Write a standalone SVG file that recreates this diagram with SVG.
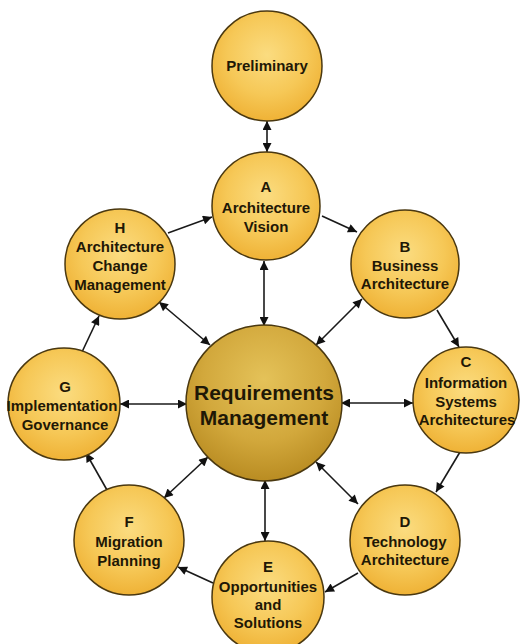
<svg xmlns="http://www.w3.org/2000/svg" width="520" height="644" viewBox="0 0 520 644">
<defs>
<radialGradient id="g" cx="50%" cy="40%" r="60%">
<stop offset="0" stop-color="#fbdc80"/>
<stop offset="0.6" stop-color="#f6c857"/>
<stop offset="1" stop-color="#efb236"/>
</radialGradient>
<radialGradient id="gc" cx="50%" cy="35%" r="65%">
<stop offset="0" stop-color="#e4c259"/>
<stop offset="0.6" stop-color="#d2a83c"/>
<stop offset="1" stop-color="#b98c22"/>
</radialGradient>
<marker id="ah" viewBox="0 0 10 10" refX="10" refY="5" markerWidth="11" markerHeight="9" markerUnits="userSpaceOnUse" orient="auto-start-reverse">
<path d="M0,0 L10,5 L0,10 z" fill="#111"/>
</marker>
<style>
.n{fill:url(#g);stroke:#4a3810;stroke-width:1.5}
.c{fill:url(#gc);stroke:#4a3810;stroke-width:1.5}
text{font-family:"Liberation Sans",Arial,sans-serif;font-weight:bold;fill:#1f1806;text-anchor:middle}
.t{font-size:15px}
.l{font-size:15px}
.b{font-size:21px}
.a{stroke:#1a1a1a;stroke-width:1.6;fill:none;marker-end:url(#ah)}
.d{stroke:#1a1a1a;stroke-width:1.6;fill:none;marker-end:url(#ah);marker-start:url(#ah)}
</style>
</defs>
<rect width="520" height="644" fill="#fff"/>
<g id="connectors">
<line class="d" x1="267" y1="121" x2="267" y2="152"/>
<line class="a" x1="322" y1="216" x2="357" y2="232"/>
<line class="a" x1="437" y1="310" x2="459" y2="347"/>
<line class="a" x1="460" y1="452" x2="436" y2="492"/>
<line class="a" x1="358" y1="573" x2="325" y2="592"/>
<line class="a" x1="213" y1="583" x2="178" y2="567"/>
<line class="a" x1="107" y1="490" x2="86" y2="453"/>
<line class="a" x1="82" y1="352" x2="99" y2="316"/>
<line class="a" x1="168" y1="233" x2="212" y2="217"/>
<line class="d" x1="264" y1="326" x2="264" y2="261"/>
<line class="d" x1="316" y1="345" x2="362" y2="299"/>
<line class="d" x1="341" y1="403" x2="413" y2="403"/>
<line class="d" x1="316" y1="462" x2="358" y2="504"/>
<line class="d" x1="265" y1="480" x2="265" y2="541"/>
<line class="d" x1="208" y1="457" x2="164" y2="498"/>
<line class="d" x1="187" y1="404" x2="120" y2="404"/>
<line class="d" x1="210" y1="345" x2="159" y2="302"/>
</g>
<g id="preliminary">
<circle class="n" cx="267" cy="66" r="55"/>
<text class="t" x="267" y="71">Preliminary</text>
</g>
<g id="A">
<circle class="n" cx="266" cy="206" r="54"/>
<text class="l" x="266" y="192">A</text>
<text class="t" x="266" y="213">Architecture</text>
<text class="t" x="266" y="232">Vision</text>
</g>
<g id="B">
<circle class="n" cx="405" cy="264" r="54"/>
<text class="l" x="405" y="252">B</text>
<text class="t" x="405" y="271">Business</text>
<text class="t" x="405" y="289">Architecture</text>
</g>
<g id="C">
<circle class="n" cx="466" cy="400" r="53"/>
<text class="l" x="466" y="367">C</text>
<text class="t" x="466" y="388">Information</text>
<text class="t" x="466" y="407">Systems</text>
<text class="t" x="467" y="425">Architectures</text>
</g>
<g id="D">
<circle class="n" cx="405" cy="540" r="55"/>
<text class="l" x="405" y="527">D</text>
<text class="t" x="405" y="547">Technology</text>
<text class="t" x="405" y="565">Architecture</text>
</g>
<g id="E">
<circle class="n" cx="268" cy="597" r="56"/>
<text class="l" x="268" y="572">E</text>
<text class="t" x="268" y="592">Opportunities</text>
<text class="t" x="268" y="610">and</text>
<text class="t" x="268" y="628">Solutions</text>
</g>
<g id="F">
<circle class="n" cx="129" cy="540" r="55"/>
<text class="l" x="129" y="527">F</text>
<text class="t" x="129" y="547">Migration</text>
<text class="t" x="129" y="566">Planning</text>
</g>
<g id="G">
<circle class="n" cx="64" cy="404" r="56"/>
<text class="l" x="65" y="392">G</text>
<text class="t" x="62" y="411">Implementation</text>
<text class="t" x="65" y="430">Governance</text>
</g>
<g id="H">
<circle class="n" cx="120" cy="264" r="55"/>
<text class="l" x="120" y="233">H</text>
<text class="t" x="120" y="252">Architecture</text>
<text class="t" x="120" y="271">Change</text>
<text class="t" x="120" y="290">Management</text>
</g>
<g id="requirements">
<circle class="c" cx="264" cy="403" r="78"/>
<text class="b" x="264" y="400">Requirements</text>
<text class="b" x="264" y="425">Management</text>
</g>
</svg>
